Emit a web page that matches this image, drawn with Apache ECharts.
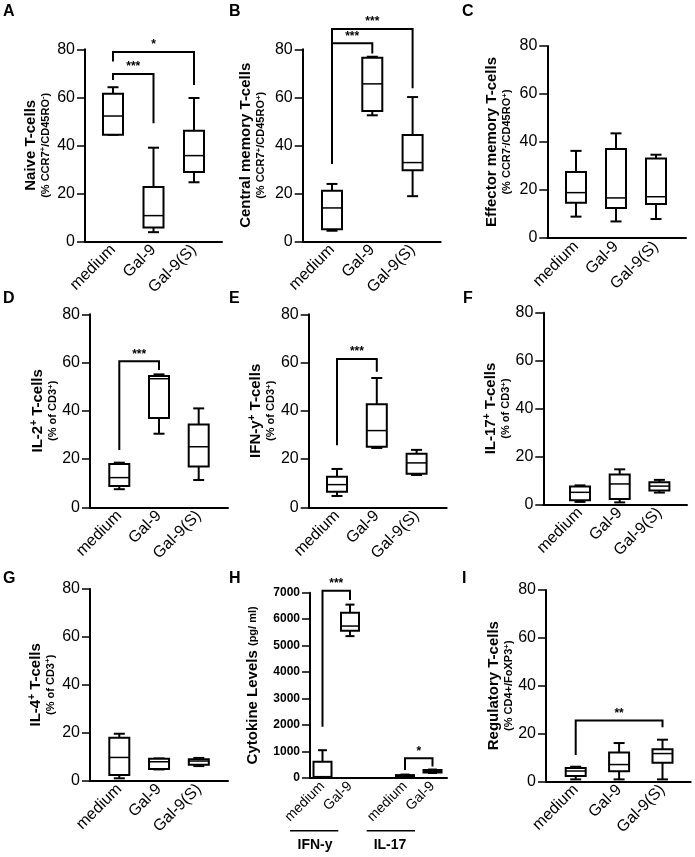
<!DOCTYPE html>
<html>
<head>
<meta charset="utf-8">
<script src="https://cdn.jsdelivr.net/npm/echarts@6/dist/echarts.min.js"></script>
<style>html,body{margin:0;padding:0;background:#fff}#chart{width:695px;height:857px}</style>
</head>
<body>
<div id="chart"></div>
<script>
// ---------- DATA ----------
const groups = ['medium', 'Gal-9', 'Gal-9(S)'];
const groupPos = [0, 1, 2];
const cytokineLabels = ['medium', 'Gal-9', 'medium', 'Gal-9'];
const cytokinePos = [0, 1, 3, 4];
const cytokineGroupNames = ['IFN-y', 'IL-17'];

// each box: [min, Q1, median, Q3, max]
const naiveBoxes = [[44.4, 44.4, 52.2, 61.5, 64.2], [3.8, 5.7, 10.7, 22.6, 39.0], [24.6, 28.9, 35.7, 46.1, 59.7]];
const centralMemoryBoxes = [[4.4, 5.0, 13.9, 21.1, 23.9], [52.5, 54.3, 65.6, 76.5, 76.9], [18.8, 29.6, 32.8, 44.3, 60.1]];
const effectorMemoryBoxes = [[8.9, 14.7, 18.9, 27.5, 36.3], [6.9, 12.5, 16.7, 37.1, 43.6], [7.9, 14.2, 17.2, 33.1, 34.7]];
const il2Boxes = [[7.5, 8.8, 12.3, 18.0, 18.5], [30.5, 37.0, 53.3, 54.4, 55.1], [11.3, 16.9, 25.1, 34.3, 41.0]];
const ifngBoxes = [[4.7, 6.4, 9.4, 12.7, 15.9], [24.6, 25.1, 31.8, 42.7, 53.6], [13.4, 13.9, 18.4, 22.2, 23.8]];
const il17Boxes = [[1.0, 1.7, 5.0, 7.4, 7.9], [0.8, 2.2, 8.5, 12.4, 14.6], [4.9, 5.8, 7.6, 9.2, 10.2]];
const il4Boxes = [[1.0, 2.4, 9.7, 17.9, 19.6], [4.7, 4.9, 7.9, 9.2, 9.3], [6.1, 6.7, 8.2, 8.9, 9.5]];
const cytokineBoxes = [[0, 20, 50, 610, 1050], [5360, 5560, 5740, 6240, 6550], [30, 50, 80, 110, 130], [190, 210, 250, 300, 320]];
const tregBoxes = [[0.8, 2.2, 4.3, 5.6, 6.1], [0.8, 4.2, 7.0, 12.0, 16.0], [0.8, 7.8, 11.6, 13.4, 17.4]];

// significance brackets: [xLeft, xRight, leftLegBottom, top, rightLegBottom]
const naiveSig = [[0, 1, 67.2, 69.7, 49.2], [0, 2, 74.9, 78.9, 65.1]];
const naiveSigLabels = ['***', '*'];
const centralSig = [[0, 1, 32.2, 82.5, 78.3], [0, 2, 82.5, 88.5, 63.8]];
const centralSigLabels = ['***', '***'];
const il2Sig = [[0, 1, 23.8, 60.5, 56.9]];
const il2SigLabels = ['***'];
const ifngSig = [[0, 1, 25.7, 61.5, 56.2]];
const ifngSigLabels = ['***'];
const cytokineSig = [[0, 1, 1940, 7076, 6720], [3, 4, 300, 743, 430]];
const cytokineSigLabels = ['***', '*'];
const tregSig = [[0, 2, 11.0, 25.4, 22.6]];
const tregSigLabels = ['**'];

const pctTicks = [0, 20, 40, 60, 80];
const cytokineTicks = [0, 1000, 2000, 3000, 4000, 5000, 6000, 7000];

// ---------- LAYOUT ----------
const FF = '"Liberation Sans", Arial, sans-serif';
const panels = [
  {letter:'A', lx:3, ly:4, ax:85, end:222, c1:113, sp:40.5, top:49.3, y0:241.3, gap:33,
   name:'{t|Naive T-cells}\n{s|(% CCR7}{p|+}{s|/CD45RO}{p|-}{s|)}', boxes:naiveBoxes, pos:groupPos, labels:groups, sig:naiveSig, sigL:naiveSigLabels},
  {letter:'B', lx:229, ly:4, ax:302.7, end:440.7, c1:332, sp:40.3, top:49.3, y0:241.3, gap:35,
   name:'{t|Central memory T-cells}\n{s|(% CCR7}{p|+}{s|/CD45RO}{p|+}{s|)}', boxes:centralMemoryBoxes, pos:groupPos, labels:groups, sig:centralSig, sigL:centralSigLabels},
  {letter:'C', lx:462, ly:4, ax:547.3, end:686, c1:576, sp:40, top:46, y0:238, gap:34,
   name:'{t|Effector memory T-cells}\n{s|(% CCR7}{p|-}{s|/CD45RO}{p|+}{s|)}', boxes:effectorMemoryBoxes, pos:groupPos, labels:groups, sig:[], sigL:[]},
  {letter:'D', lx:3, ly:291, ax:90, end:228, c1:119.3, sp:39.7, top:314.3, y0:507.3, gap:26,
   name:'{t|IL-2}{q|+}{t| T-cells}\n{s|(% of CD3}{p|+}{s|)}', boxes:il2Boxes, pos:groupPos, labels:groups, sig:il2Sig, sigL:il2SigLabels},
  {letter:'E', lx:229, ly:291, ax:308.7, end:446.7, c1:337, sp:39.8, top:314.3, y0:507.3, gap:31,
   name:'{t|IFN-y}{q|+}{t| T-cells}\n{s|(% of CD3}{p|+}{s|)}', boxes:ifngBoxes, pos:groupPos, labels:groups, sig:ifngSig, sigL:ifngSigLabels},
  {letter:'F', lx:463, ly:291, ax:543.3, end:687, c1:580, sp:39.7, top:312.7, y0:504.3, gap:27,
   name:'{t|IL-17}{q|+}{t| T-cells}\n{s|(% of CD3}{p|+}{s|)}', boxes:il17Boxes, pos:groupPos, labels:groups, sig:[], sigL:[]},
  {letter:'G', lx:3, ly:571, ax:90, end:228, c1:119.3, sp:39.75, top:589, y0:780.7, gap:33,
   name:'{t|IL-4}{q|+}{t| T-cells}\n{s|(% of CD3}{p|+}{s|)}', boxes:il4Boxes, pos:groupPos, labels:groups, sig:[], sigL:[]},
  {letter:'H', lx:229, ly:571, ax:310, end:447, c1:322.5, sp:27.5, top:592.7, y0:778, gap:49,
   name:'{t|Cytokine Levels }{s|(pg/ ml)}', boxes:cytokineBoxes, pos:cytokinePos, labels:cytokineLabels, sig:cytokineSig, sigL:cytokineSigLabels, cyto:true},
  {letter:'I', lx:462, ly:571, ax:546, end:690.7, c1:575.7, sp:43.4, top:590, y0:781.3, gap:26,
   name:'{t|Regulatory T-cells}\n{s|(% CD4+/FoXP3}{p|+}{s|)}', boxes:tregBoxes, pos:groupPos, labels:groups, sig:tregSig, sigL:tregSigLabels}
];

const rich = {
  t: {fontSize: 15, fontWeight: 'bold', fontFamily: FF, color: '#000', lineHeight: 17},
  q: {fontSize: 10, fontWeight: 'bold', fontFamily: FF, color: '#000', lineHeight: 10, verticalAlign: 'top'},
  s: {fontSize: 11, fontWeight: 'bold', fontFamily: FF, color: '#000', lineHeight: 13},
  p: {fontSize: 8, fontWeight: 'bold', fontFamily: FF, color: '#000', lineHeight: 8, verticalAlign: 'top'}
};

function boxRender(boxW, capW) {
  return function (params, api) {
    const x = api.value(0);
    const pts = [1, 2, 3, 4, 5].map(i => api.coord([x, api.value(i)]));
    const cx = pts[0][0];
    const yMin = pts[0][1], yQ1 = pts[1][1], yMed = pts[2][1], yQ3 = pts[3][1], yMax = pts[4][1];
    const hw = boxW / 2, hc = capW / 2;
    const st = {stroke: '#000', lineWidth: 2, fill: null};
    return {type: 'group', children: [
      {type: 'line', shape: {x1: cx, y1: yQ3, x2: cx, y2: yMax}, style: st},
      {type: 'line', shape: {x1: cx - hc, y1: yMax, x2: cx + hc, y2: yMax}, style: st},
      {type: 'line', shape: {x1: cx, y1: yQ1, x2: cx, y2: yMin}, style: st},
      {type: 'line', shape: {x1: cx - hc, y1: yMin, x2: cx + hc, y2: yMin}, style: st},
      {type: 'rect', shape: {x: cx - hw, y: yQ3, width: boxW, height: Math.max(yQ1 - yQ3, 0.5)}, style: {stroke: '#000', lineWidth: 2, fill: '#fff'}},
      {type: 'line', shape: {x1: cx - hw, y1: yMed, x2: cx + hw, y2: yMed}, style: {stroke: '#000', lineWidth: 1.5}}
    ]};
  };
}

function sigRender(labels) {
  return function (params, api) {
    const x1 = api.value(0), x2 = api.value(1);
    const pL = api.coord([x1, api.value(2)]);
    const pT1 = api.coord([x1, api.value(3)]);
    const pT2 = api.coord([x2, api.value(3)]);
    const pR = api.coord([x2, api.value(4)]);
    return {type: 'group', children: [
      {type: 'polyline', shape: {points: [pL, pT1, pT2, pR]}, style: {stroke: '#000', lineWidth: 2, fill: null}},
      {type: 'text', x: (pT1[0] + pT2[0]) / 2, y: pT1[1] - 1,
       style: {text: labels[params.dataIndex], align: 'center', verticalAlign: 'bottom', font: 'bold 12px ' + FF, fill: '#000'}}
    ]};
  };
}

const grid = [], xAxis = [], yAxis = [], series = [], title = [];
panels.forEach((p, i) => {
  const h = p.y0 - p.top;
  grid.push({left: p.ax, top: p.top, width: p.end - p.ax, height: h, containLabel: false});
  const xmin = -(p.c1 - p.ax) / p.sp, xmax = (p.end - p.c1) / p.sp;
  xAxis.push({
    type: 'value', gridIndex: i, min: xmin, max: xmax,
    axisLine: {show: true, onZero: false, lineStyle: {color: '#000', width: 2}},
    axisTick: {show: false}, splitLine: {show: false},
    axisLabel: {
      customValues: p.pos, rotate: 45, margin: 6, color: '#000', fontFamily: FF,
      fontSize: p.cyto ? 14 : 16,
      formatter: v => { const k = p.pos.indexOf(Math.round(v)); return k >= 0 ? p.labels[k] : ''; }
    }
  });
  yAxis.push({
    type: 'value', gridIndex: i, min: 0, max: p.cyto ? 7000 : 80, interval: p.cyto ? 1000 : 20,
    axisLine: {show: true, onZero: false, lineStyle: {color: '#000', width: 2}},
    axisTick: {show: true, length: 8, lineStyle: {color: '#000', width: 1.5}},
    splitLine: {show: false},
    axisLabel: {color: '#000', fontFamily: FF, fontSize: p.cyto ? 12 : 16, fontWeight: p.cyto ? 'bold' : 'normal', margin: 10,
      formatter: v => String(Math.round(v))},
    name: p.name, nameLocation: 'middle', nameRotate: 90, nameGap: p.gap,
    nameTextStyle: {rich: rich, align: 'center'}
  });
  series.push({
    type: 'custom', xAxisIndex: i, yAxisIndex: i, clip: false, z: 3,
    renderItem: boxRender(p.cyto ? 18 : 20, p.cyto ? 9 : 11),
    data: p.boxes.map((b, k) => [p.pos[k]].concat(b))
  });
  if (p.sig.length) {
    series.push({
      type: 'custom', xAxisIndex: i, yAxisIndex: i, clip: false, z: 4,
      renderItem: sigRender(p.sigL),
      data: p.sig
    });
  }
  title.push({text: p.letter, left: p.lx, top: p.ly, padding: 0,
    textStyle: {fontSize: 16, fontWeight: 'bold', fontFamily: FF, color: '#000'}});
});

const graphic = [
  {type: 'line', shape: {x1: 290, y1: 830.7, x2: 338.3, y2: 830.7}, style: {stroke: '#000', lineWidth: 1.5}},
  {type: 'line', shape: {x1: 366.7, y1: 830.7, x2: 415, y2: 830.7}, style: {stroke: '#000', lineWidth: 1.5}},
  {type: 'text', x: 315, y: 845, style: {text: cytokineGroupNames[0], align: 'center', verticalAlign: 'middle', font: 'bold 14px ' + FF, fill: '#000'}},
  {type: 'text', x: 390, y: 845, style: {text: cytokineGroupNames[1], align: 'center', verticalAlign: 'middle', font: 'bold 14px ' + FF, fill: '#000'}}
];

const chart = echarts.init(document.getElementById('chart'), null, {renderer: 'canvas'});
chart.setOption({
  backgroundColor: '#fff', animation: false,
  title, grid, xAxis, yAxis, series, graphic
});
</script>
</body>
</html>
